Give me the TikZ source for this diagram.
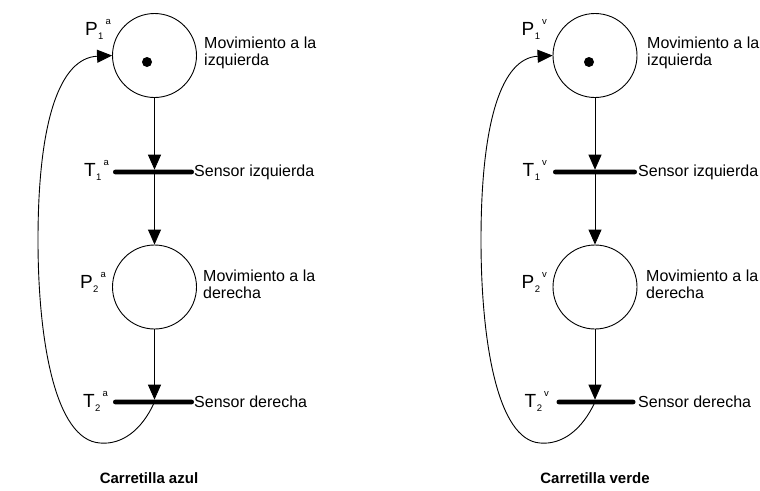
\documentclass[tikz,border=0pt]{standalone}
\usepackage{fontspec}
\setmainfont{Liberation Sans}
\usetikzlibrary{arrows.meta}
\newcommand{\netlab}[3]{{\fontsize{19}{19}\selectfont #1}\kern0.5pt\raisebox{-4pt}{\fontsize{9.5}{9.5}\selectfont #2}\kern2pt\raisebox{10.5pt}{\fontsize{9.5}{9.5}\selectfont #3}}
\tikzset{
  pnplace/.style={circle,draw,line width=0.9pt,minimum size=84pt,inner sep=0pt},
  pntoken/.style={circle,fill=black,minimum size=10pt,inner sep=0pt},
  pnbar/.style={fill=black,rounded corners=2.2pt,minimum height=4.6pt,inner sep=0pt},
  pnarc/.style={line width=0.9pt,-{Triangle[length=15pt,width=13pt]}},
  pndesc/.style={font=\fontsize{16}{17}\selectfont,inner sep=0pt,align=left,anchor=base west},
  pnlab/.style={inner sep=0pt,anchor=base east},
  pncaption/.style={font=\fontsize{15}{15}\selectfont\bfseries,inner sep=0pt,anchor=base}
}
\begin{document}
\begin{tikzpicture}[x=1pt,y=-1pt]
\useasboundingbox (0,0) rectangle (760,490);
% ---------- left net ----------
\node[pnplace] (p1a) at (154.5,55.5) {};
\node[pntoken] (k1a) at (147,62) {};
\node[pnbar,minimum width=81pt] (t1a) at (153.5,172) {};
\node[pnplace] (p2a) at (154.5,287) {};
\node[pnbar,minimum width=81pt] (t2a) at (153.5,402) {};
\draw[pnarc] (p1a.south) -- (154.5,169.7);
\draw[pnarc] (154.5,172) -- (p2a.north);
\draw[pnarc] (p2a.south) -- (154.5,399.7);
\draw[pnarc] (154.5,402) .. controls (142,430) and (122,445) .. (100,443)
  .. controls (55,440) and (38,340) .. (38,240)
  .. controls (38,120) and (60,58) .. (p1a.west);
\node[pnlab] (l1a) at (111,35) {\netlab{P}{1}{a}};
\node[pnlab] (l2a) at (106,288) {\netlab{P}{2}{a}};
\node[pnlab] (l3a) at (109,176) {\netlab{T}{1}{a}};
\node[pnlab] (l4a) at (108,407) {\netlab{T}{2}{a}};
\node[pndesc] (d1a) at (204,65) {Movimiento a la\\izquierda};
\node[pndesc] (d2a) at (203,298) {Movimiento a la\\derecha};
\node[pndesc] (d3a) at (194,176) {Sensor izquierda};
\node[pndesc] (d4a) at (194,407) {Sensor derecha};
\node[pncaption] (ca) at (149,483) {Carretilla azul};
% ---------- right net ----------
\node[pnplace] (p1v) at (595,55.5) {};
\node[pntoken] (k1v) at (589,62) {};
\node[pnbar,minimum width=84pt] (t1v) at (595,172) {};
\node[pnplace] (p2v) at (595,287) {};
\node[pnbar,minimum width=79pt] (t2v) at (596,402) {};
\draw[pnarc] (p1v.south) -- (595,169.7);
\draw[pnarc] (595,172) -- (p2v.north);
\draw[pnarc] (p2v.south) -- (595,399.7);
\draw[pnarc] (595,402) .. controls (582,430) and (562,445) .. (540,443)
  .. controls (497,440) and (481,340) .. (481,240)
  .. controls (481,120) and (502,58) .. (p1v.west);
\node[pnlab] (l1v) at (547,35) {\netlab{P}{1}{v}};
\node[pnlab] (l2v) at (547,288) {\netlab{P}{2}{v}};
\node[pnlab] (l3v) at (547,176) {\netlab{T}{1}{v}};
\node[pnlab] (l4v) at (549,407) {\netlab{T}{2}{v}};
\node[pndesc] (d1v) at (647,65) {Movimiento a la\\izquierda};
\node[pndesc] (d2v) at (646,298) {Movimiento a la\\derecha};
\node[pndesc] (d3v) at (638,176) {Sensor izquierda};
\node[pndesc] (d4v) at (638,407) {Sensor derecha};
\node[pncaption] (cv) at (595,483) {Carretilla verde};
\end{tikzpicture}
\end{document}
